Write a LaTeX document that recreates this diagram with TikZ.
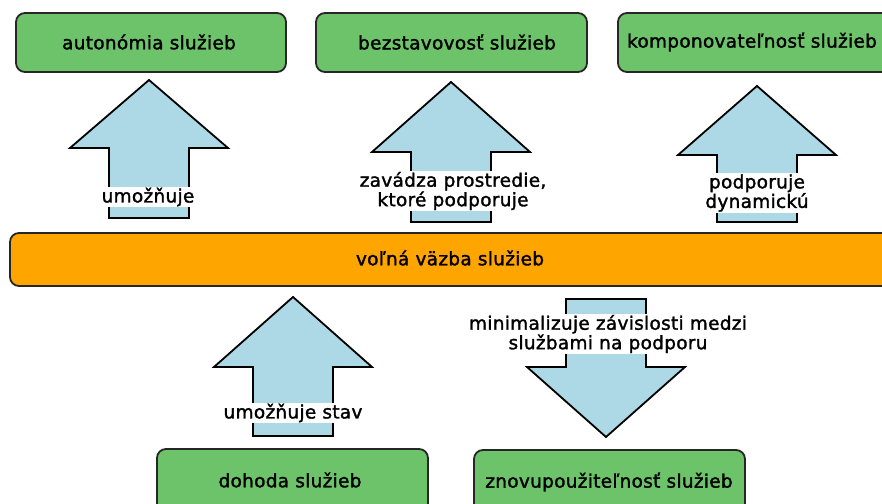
\documentclass[tikz,border=0pt]{standalone}
\usepackage{fontspec}
\setmainfont{DejaVu Sans}[LetterSpace=1.5, FakeBold=1.6]
\begin{document}
\begin{tikzpicture}[x=1bp,y=-1bp,
  every node/.style={font=\fontsize{18.5bp}{19.5bp}\selectfont, text=black},
  goal/.style={draw=black!85, line width=1.8bp, rounded corners=9bp, fill=goalgreen},
  core/.style={draw=black!85, line width=1.8bp, rounded corners=9bp, fill=coreorange},
  blockarrow/.style={draw=black, line width=1.8bp, fill=arrowblue, line join=miter},
  tag/.style={fill=white, inner sep=1bp, align=center}]
\definecolor{goalgreen}{RGB}{108,195,106}
\definecolor{coreorange}{RGB}{255,165,0}
\definecolor{arrowblue}{RGB}{173,216,230}
\useasboundingbox (0,0) rectangle (882,504);
\clip (0,0) rectangle (882,504);

% upward block arrow: centre x, tip y, head base y, bottom y
\newcommand{\uparr}[4]{%
  \draw[blockarrow] ({#1},{#2}) -- ({#1+79},{#3}) -- ({#1+40},{#3}) -- ({#1+40},{#4})
    -- ({#1-40},{#4}) -- ({#1-40},{#3}) -- ({#1-79},{#3}) -- cycle;}
% downward block arrow: centre x, top y, head base y, tip y
\newcommand{\downarr}[4]{%
  \draw[blockarrow] ({#1-40},{#2}) -- ({#1+40},{#2}) -- ({#1+40},{#3}) -- ({#1+79},{#3})
    -- ({#1},{#4}) -- ({#1-79},{#3}) -- ({#1-40},{#3}) -- cycle;}

% goal boxes
\draw[goal] (16,13) rectangle (286,72);
\node (auto) at (149,42) {autonómia služieb};
\draw[goal] (316,13) rectangle (587,72);
\node (bezst) at (457,42) {bezstavovosť služieb};
\draw[goal] (618,13) rectangle (895,72);
\node (komp) at (752,42) {komponovateľnosť služieb};

% loose coupling
\draw[core] (10,233) rectangle (895,286);
\node (vazba) at (450,258) {voľná väzba služieb};

% lower boxes
\draw[goal] (157,449) rectangle (428,520);
\node (dohoda) at (290,480) {dohoda služieb};
\draw[goal] (474,450) rectangle (745,520);
\node (znovu) at (609,482) {znovupoužiteľnosť služieb};

% block arrows
\uparr{149}{80}{148}{218}
\uparr{451}{82}{152}{222}
\uparr{757}{86}{155}{222}
\uparr{293}{297}{367}{436}
\downarr{606}{299}{367}{437}

% arrow labels
\node[tag] (t1) at (148,197) {umožňuje};
\node[tag] (t2) at (453,191) {zavádza prostredie,\\ktoré podporuje};
\node[tag] (t3) at (757,193) {podporuje\\dynamickú};
\node[tag] (t4) at (293,413) {umožňuje stav};
\node[tag] (t5) at (608,334) {minimalizuje závislosti medzi\\službami na podporu};
\end{tikzpicture}
\end{document}
